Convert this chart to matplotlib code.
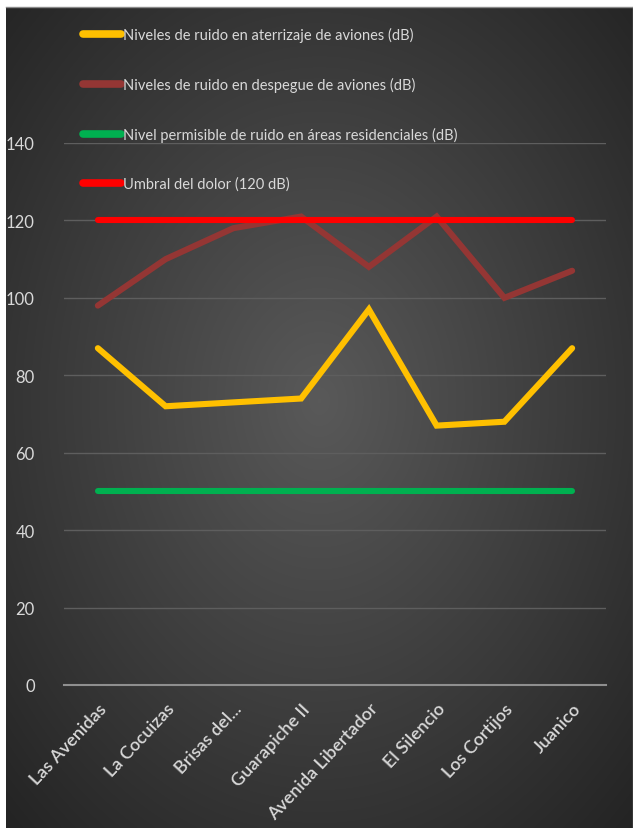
import numpy as np
import matplotlib.pyplot as plt

plt.rcParams["font.family"] = ["Lato", "DejaVu Sans"]

barrios = ["Las Avenidas", "La Cocuizas", "Brisas del...", "Guarapiche II",
           "Avenida Libertador", "El Silencio", "Los Cortijos", "Juanico"]
aterrizaje = [87, 72, 73, 74, 97, 67, 68, 87]
despegue = [98, 110, 118, 121, 108, 121, 100, 107]
permisible = [50] * len(barrios)
umbral = [120] * len(barrios)

series = [
    (aterrizaje, "#FFC000", "Niveles de ruido en aterrizaje de aviones (dB)"),
    (despegue, "#943634", "Niveles de ruido en despegue de aviones (dB)"),
    (permisible, "#00B050", "Nivel permisible de ruido en áreas residenciales (dB)"),
    (umbral, "#FF0000", "Umbral del dolor (120 dB)"),
]

W, H = 633, 829
fig = plt.figure(figsize=(W / 100, H / 100), dpi=100, facecolor="white")

# dark radial gradient panel behind the chart
bg = fig.add_axes([6 / W, 0, 1 - 6 / W, 1 - 8 / H])
yy, xx = np.mgrid[0:1:400j, 0:1:300j]
r = np.sqrt(((xx - 0.5) / 0.75) ** 2 + ((yy - 0.48) / 0.75) ** 2)
shade = np.clip(0.35 - 0.20 * r / r.max() * 1.05, 0, 1)
bg.imshow(np.dstack([shade] * 3), aspect="auto", extent=[0, 1, 0, 1],
          interpolation="bicubic")
bg.set_xticks([])
bg.set_yticks([])
for side in ["left", "bottom"]:
    bg.spines[side].set_visible(False)
for side in ["top", "right"]:
    bg.spines[side].set_color("#8a8a8a")
    bg.spines[side].set_linewidth(1)

ax = fig.add_axes([64 / W, 1 - 686 / H, (606 - 64) / W, (686 - 144) / H])
ax.patch.set_alpha(0)
x = np.arange(len(barrios))
for vals, color, label in series:
    ax.plot(x, vals, color=color, linewidth=4.4, solid_capstyle="round",
            solid_joinstyle="miter", label=label)

ax.set_xlim(-0.5, len(barrios) - 0.5)
ax.set_ylim(0, 140)
ax.set_yticks(range(0, 141, 20))
ax.set_xticks(x)
ax.set_xticklabels(barrios, rotation=47, ha="right", rotation_mode="anchor")
ax.tick_params(axis="both", length=0, colors="#d9d9d9")
ax.tick_params(axis="y", pad=21, labelsize=12)
ax.tick_params(axis="x", pad=11, labelsize=13)
for lbl in ax.get_xticklabels():
    lbl.set_fontweight("semibold")
ax.grid(axis="y", color="#5e5e5e", linewidth=1)
ax.set_axisbelow(True)
for side in ["top", "right", "left"]:
    ax.spines[side].set_visible(False)
ax.spines["bottom"].set_color("#8f8f8f")
ax.spines["bottom"].set_linewidth(1.5)

leg = fig.legend(loc="upper left", bbox_to_anchor=(70 / W, 1 - 15 / H),
                 frameon=False, fontsize=10.5, handlelength=2.6,
                 handletextpad=0.15, labelspacing=2.38,
                 labelcolor="#d9d9d9")
for h in leg.get_lines():
    h.set_linewidth(5.5)
    h.set_solid_capstyle("round")

fig.savefig("out.png", dpi=100, facecolor="white")
